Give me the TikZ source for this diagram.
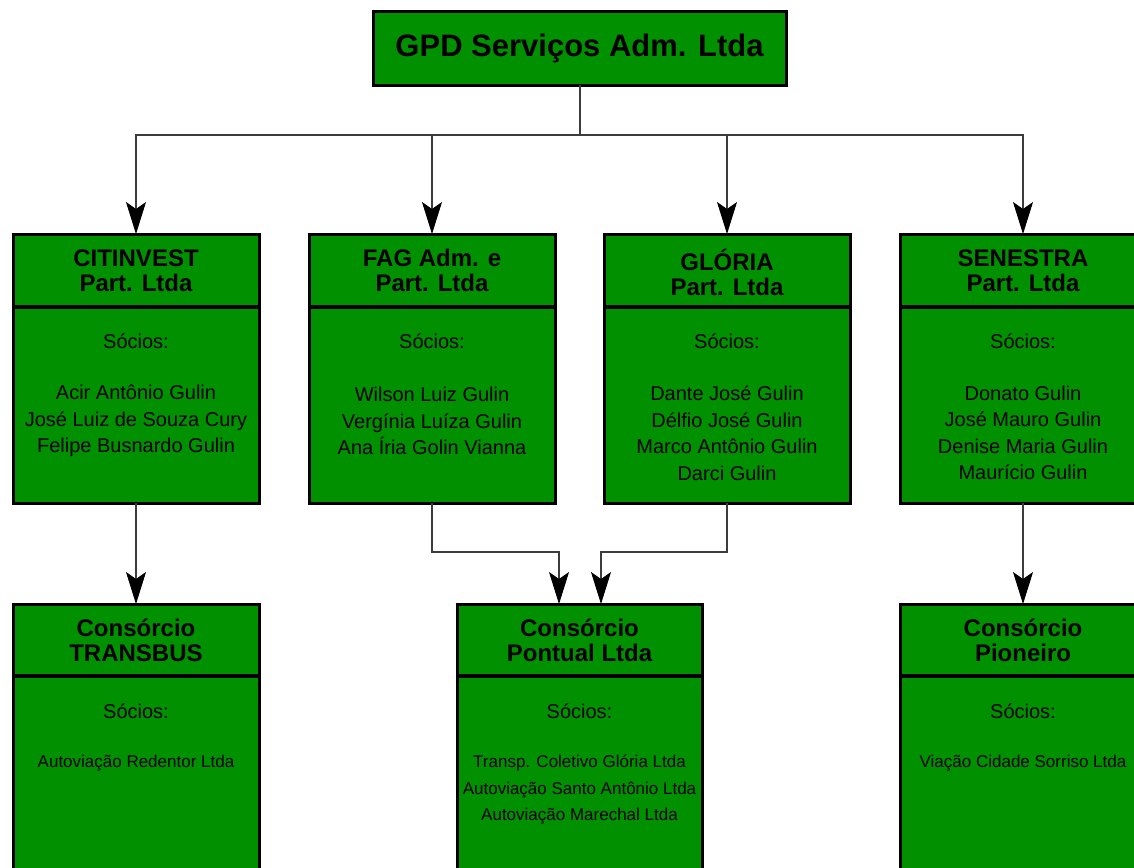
\documentclass[tikz,border=0pt]{standalone}
\usepackage{fontspec}
\setmainfont{Liberation Sans}
\usetikzlibrary{arrows.meta}
\definecolor{boxgreen}{HTML}{009000}
\definecolor{connc}{HTML}{3C3C3C}
\begin{document}
\begin{tikzpicture}[x=1pt,y=-1pt,
  box/.style={draw=black, line width=3pt, fill=boxgreen, inner sep=0pt, outer sep=0pt, minimum width=246pt},
  rowbox/.style={box, minimum height=269pt},
  botbox/.style={box, minimum height=300pt},
  divider/.style={draw=black, line width=4pt},
  headtxt/.style={align=center, inner sep=0pt, font=\fontsize{24}{25}\selectfont\bfseries},
  sociotxt/.style={align=center, inner sep=0pt, font=\fontsize{20}{26}\selectfont},
  nametxt/.style={align=center, inner sep=0pt, font=\fontsize{20}{26.5}\selectfont},
  smalltxt/.style={align=center, inner sep=0pt, font=\fontsize{17}{26.5}\selectfont},
  conn/.style={draw=connc, line width=2pt},
  arr/.style={conn, -{Stealth[length=32pt, width=20pt, inset=7pt, color=black, line width=0.8pt]}}
]
\useasboundingbox (0,0) rectangle (1134,867);
\clip (0,0) rectangle (1134,867);

% top box
\node[box, minimum width=413pt, minimum height=73pt, font=\fontsize{31}{36}\selectfont\bfseries] (gpd) at (579.5,48.5) {GPD Serviços Adm. Ltda};

% second row
\node[rowbox] (cit) at (136,368.5) {};
\node[rowbox] (fag) at (432,368.5) {};
\node[rowbox] (glo) at (727,368.5) {};
\node[rowbox] (sen) at (1023,368.5) {};

\foreach \b in {cit,fag,glo,sen}{
  \draw[divider] ([yshift=-73pt]\b.north west) -- ([yshift=-73pt]\b.north east);
}

\node[headtxt] (cit-h) at (136,270.5) {CITINVEST\\Part. Ltda};
\node[headtxt] (fag-h) at (432,270.5) {FAG Adm. e\\Part. Ltda};
\node[headtxt] (glo-h) at (727,272) {GLÓRIA\\Part. Ltda};
\node[headtxt] (sen-h) at (1023,270.5) {SENESTRA\\Part. Ltda};

\node[sociotxt] (cit-s) at (136,341) {Sócios:};
\node[sociotxt] (fag-s) at (432,341) {Sócios:};
\node[sociotxt] (glo-s) at (727,341) {Sócios:};
\node[sociotxt] (sen-s) at (1023,341) {Sócios:};

\node[nametxt] (cit-n) at (136,421) {Acir Antônio Gulin\\José Luiz de Souza Cury\\Felipe Busnardo Gulin};
\node[nametxt] (fag-n) at (432,421) {Wilson Luiz Gulin\\Vergínia Luíza Gulin\\Ana Íria Golin Vianna};
\node[nametxt] (glo-n) at (727,433) {Dante José Gulin\\Délfio José Gulin\\Marco Antônio Gulin\\Darci Gulin};
\node[nametxt] (sen-n) at (1023,433) {Donato Gulin\\José Mauro Gulin\\Denise Maria Gulin\\Maurício Gulin};

% bottom row
\node[botbox] (tra) at (136,754) {};
\node[botbox, minimum width=245pt] (pon) at (579.5,754) {};
\node[botbox] (pio) at (1023,754) {};

\foreach \b in {tra,pon,pio}{
  \draw[divider] ([yshift=-72pt]\b.north west) -- ([yshift=-72pt]\b.north east);
}

\node[headtxt] (tra-h) at (136,640) {Consórcio\\TRANSBUS};
\node[headtxt] (pon-h) at (579.5,640) {Consórcio\\Pontual Ltda};
\node[headtxt] (pio-h) at (1023,640) {Consórcio\\Pioneiro};

\node[sociotxt] (tra-s) at (136,711) {Sócios:};
\node[sociotxt] (pon-s) at (579.5,711) {Sócios:};
\node[sociotxt] (pio-s) at (1023,711) {Sócios:};

\node[smalltxt] (tra-n) at (136,763) {Autoviação Redentor Ltda};
\node[smalltxt] (pon-n) at (579.5,790) {Transp. Coletivo Glória Ltda\\Autoviação Santo Antônio Ltda\\Autoviação Marechal Ltda};
\node[smalltxt] (pio-n) at (1023,763) {Viação Cidade Sorriso Ltda};

% connectors
\draw[conn] (gpd.south) -- ++(0,50) coordinate (hub);
\draw[arr] (hub) -| (cit.north);
\draw[arr] (hub) -| (fag.north);
\draw[arr] (hub) -| (glo.north);
\draw[arr] (hub) -| (sen.north);

\draw[arr] (cit.south) -- (tra.north);
\draw[arr] (sen.south) -- (pio.north);
\draw[arr] (fag.south) -- ++(0,49) -| ([xshift=-20.5pt]pon.north);
\draw[arr] (glo.south) -- ++(0,49) -| ([xshift=21.5pt]pon.north);
\end{tikzpicture}
\end{document}
